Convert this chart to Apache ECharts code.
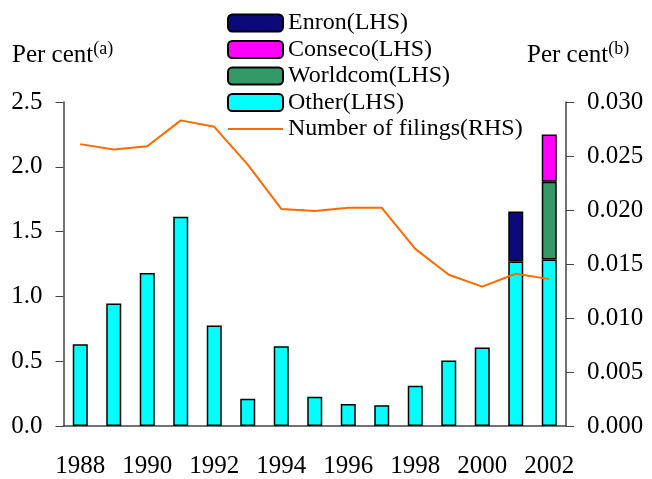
<!DOCTYPE html>
<html>
<head>
<meta charset="utf-8">
<script src="https://cdn.jsdelivr.net/npm/echarts@6/dist/echarts.min.js"></script>
<style>
  html, body { margin: 0; padding: 0; background: #fff; }
  #chart { width: 652px; height: 479px; }
</style>
</head>
<body>
<div id="chart"></div>
<script>
const years = ['1988', '1989', '1990', '1991', '1992', '1993', '1994', '1995',
  '1996', '1997', '1998', '1999', '2000', '2001', '2002'];
const other = [0.63, 0.945, 1.18, 1.615, 0.775, 0.21, 0.615, 0.225, 0.17, 0.16, 0.31, 0.505, 0.605, 1.27, 1.285];
const worldcom = [null, null, null, null, null, null, null, null, null, null, null, null, null, null, 0.6];
const conseco = [null, null, null, null, null, null, null, null, null, null, null, null, null, null, 0.365];
const enron = [null, null, null, null, null, null, null, null, null, null, null, null, null, 0.385, null];
const filings = [0.0261, 0.0256, 0.0259, 0.0283, 0.0277, 0.0242, 0.0201, 0.0199, 0.0202, 0.0202,
  0.0164, 0.0140, 0.0129, 0.0141, 0.0136];

const font = "'Liberation Serif', 'Times New Roman', serif";
const chart = echarts.init(document.getElementById('chart'));

function barSeries(name, data, color) {
  return {
    name: name,
    type: 'bar',
    stack: 'lhs',
    data: data,
    barWidth: 15,
    itemStyle: { color: color, borderColor: '#000', borderWidth: 1.5 }
  };
}

// superscript name, like "Per cent(a)"
function perCent(x, tag) {
  return {
    type: 'text', left: x, top: 40,
    style: {
      text: 'Per cent{sup|(' + tag + ')}', fontFamily: font, fontSize: 25, fill: '#000',
      rich: { sup: { fontSize: 18, fontFamily: font, verticalAlign: 'top', padding: [0, 0, 12, 0] } }
    }
  };
}

chart.setOption({
  animation: false,
  textStyle: { fontFamily: font, color: '#000' },
  grid: { left: 63.5, right: 86, top: 102, bottom: 52 },
  legend: {
    orient: 'vertical',
    left: 227,
    top: 11,
    padding: 0,
    itemWidth: 55,
    itemHeight: 17,
    itemGap: 2.5,
    data: ['Enron(LHS)', 'Conseco(LHS)', 'Worldcom(LHS)', 'Other(LHS)',
      { name: 'Number of filings(RHS)', itemStyle: { opacity: 0 } }],
    textStyle: { fontFamily: font, fontSize: 24, color: '#000' }
  },
  graphic: [perCent(12, 'a'), perCent(527, 'b')],
  xAxis: {
    type: 'category',
    data: years,
    axisLine: { lineStyle: { color: '#444', width: 1.5 } },
    axisTick: { inside: true, length: 9, lineStyle: { color: '#444' } },
    axisLabel: { interval: 1, margin: 28, fontSize: 25, color: '#000', fontFamily: font }
  },
  yAxis: [
    {
      type: 'value', min: 0, max: 2.5, interval: 0.5,
      splitLine: { show: false },
      axisLine: { show: true, lineStyle: { color: '#444', width: 1.5 } },
      axisTick: { show: true, length: 8, lineStyle: { color: '#444' } },
      axisLabel: { margin: 21, fontSize: 25, color: '#000', fontFamily: font,
        formatter: v => v.toFixed(1) }
    },
    {
      type: 'value', min: 0, max: 0.03, interval: 0.005,
      splitLine: { show: false },
      axisLine: { show: true, lineStyle: { color: '#444', width: 1.5 } },
      axisTick: { show: true, length: 8, lineStyle: { color: '#444' } },
      axisLabel: { margin: 21, fontSize: 25, color: '#000', fontFamily: font,
        formatter: v => v.toFixed(3) }
    }
  ],
  series: [
    barSeries('Other(LHS)', other, '#00ffff'),
    barSeries('Worldcom(LHS)', worldcom, '#339966'),
    barSeries('Conseco(LHS)', conseco, '#ff00ff'),
    barSeries('Enron(LHS)', enron, '#0c0a78'),
    {
      name: 'Number of filings(RHS)',
      type: 'line',
      yAxisIndex: 1,
      data: filings,
      symbol: 'none',
      lineStyle: { color: '#ff6a00', width: 2 },
      itemStyle: { color: '#ff6a00' }
    }
  ]
});
</script>
</body>
</html>
